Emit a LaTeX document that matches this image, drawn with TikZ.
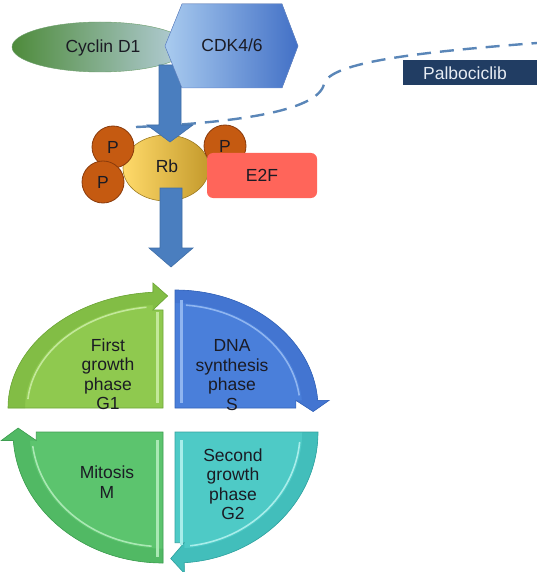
\documentclass[tikz,border=0pt]{standalone}
\usepackage{fontspec}
\setmainfont{Liberation Sans}
\usetikzlibrary{shapes.geometric}
\definecolor{txt}{HTML}{1B1B24}
\definecolor{arrowc}{HTML}{4A7EBF}
\definecolor{arrowl}{HTML}{3F6FA8}
\definecolor{dashc}{HTML}{5A86B8}
\definecolor{cycL}{HTML}{4E8B3B}
\definecolor{cycR}{HTML}{B7CFDD}
\definecolor{cdkL}{HTML}{A9CBEF}
\definecolor{cdkR}{HTML}{4270C6}
\definecolor{rbL}{HTML}{FFDA6A}
\definecolor{rbR}{HTML}{C49A2C}
\definecolor{pfill}{HTML}{C55A11}
\definecolor{pdraw}{HTML}{8A3B0C}
\definecolor{e2f}{HTML}{FF655A}
\definecolor{palbo}{HTML}{213D63}
\definecolor{palbotxt}{HTML}{E6ECF3}
\definecolor{gA}{HTML}{8FC94F}\definecolor{gB}{HTML}{82BD45}\definecolor{gC}{HTML}{C3E89A}\definecolor{gD}{HTML}{6EA63A}
\definecolor{sA}{HTML}{4A7FDA}\definecolor{sB}{HTML}{4375D1}\definecolor{sC}{HTML}{8FB5F0}\definecolor{sD}{HTML}{3564B8}
\definecolor{mA}{HTML}{5CC46E}\definecolor{mB}{HTML}{51B964}\definecolor{mC}{HTML}{A9E8B3}\definecolor{mD}{HTML}{3F9E52}
\definecolor{tA}{HTML}{4ECAC6}\definecolor{tB}{HTML}{42BEBB}\definecolor{tC}{HTML}{A8EDEA}\definecolor{tD}{HTML}{33A3A1}
\newcommand\quadrant[9]{%
\begin{scope}[shift={(#1,#2)}, x=1pt, y=1pt, xscale=#3, yscale=#4, rotate=#5]
\fill[#6] (0,0) -- (-1,0) arc[start angle=180,end angle=93.7,radius=1] -- (-0.065,1.078) -- (0.03,0.966) -- (-0.065,0.845) -- (0,0.845) -- cycle;
\fill[#7] (-1,0) arc[start angle=180,end angle=93.7,radius=1] -- (-0.065,1.078) -- (0.03,0.966) -- (-0.065,0.845) -- (94.2:0.89) arc[start angle=94.2,end angle=180,radius=0.89] -- cycle;
\draw[#8, line width=1.6pt] (175:0.875) arc[start angle=175,end angle=97,radius=0.875];
\draw[#9, line width=0.6pt] (0,0) -- (-1,0) arc[start angle=180,end angle=93.7,radius=1] -- (-0.065,1.078) -- (0.03,0.966) -- (-0.065,0.845) -- (0,0.845) -- cycle;
\end{scope}}
\tikzset{
  lbl/.style={text=txt, font=\fontsize{17.5}{19.5}\selectfont, align=center, inner sep=0pt},
  dashline/.style={dashc, line width=2.4pt, dash pattern=on 14pt off 9pt},
  blockarrow/.style={fill=arrowc, draw=arrowl, line width=0.6pt},
  pball/.style={circle, fill=pfill, draw=pdraw, line width=0.8pt, minimum size=42pt, inner sep=0pt, text=txt, font=\fontsize{17.5}{19.5}\selectfont},
}
\begin{document}
\begin{tikzpicture}[x=1pt,y=-1pt]
\useasboundingbox (0,0) rectangle (537,572);
\fill[white] (0,0) rectangle (537,572);

% dashed inhibitor line
\coordinate (d0) at (136,127);
\coordinate (d1) at (324,84);
\coordinate (d2) at (537,43);
\draw[dashline] (d0) .. controls (230,123) and (318,112) .. (d1) .. controls (330,62) and (420,52) .. (d2);

% Palbociclib box
\fill[palbo] (403,60) rectangle (537,85);
\node[lbl, text=palbotxt] (palbo) at (465,73) {Palbociclib};

% Cyclin D1
\node[ellipse, minimum width=176pt, minimum height=50pt, inner sep=0pt, left color=cycL, right color=cycR, draw=cycL!70!cycR, line width=0.4pt] (cyc) at (100,47) {};
\node[lbl] (cyctxt) at (103,48) {Cyclin D1};

% Rb complex
\node[ellipse, minimum width=86pt, minimum height=66pt, inner sep=0pt, left color=rbL, right color=rbR, draw=rbR!80!black, line width=0.6pt] (rb) at (166,168) {};
\node[pball] (p1) at (113,147) {P};
\node[pball] (p2) at (103,182) {P};
\node[pball] (p3) at (225,146) {P};
\node[lbl] (rbtxt) at (167,166) {Rb};
\node[rectangle, rounded corners=6pt, fill=e2f, minimum width=110pt, minimum height=45pt, inner sep=0pt, lbl] (e2f) at (262,175.5) {E2F};

% arrow 1 (behind hexagon)
\coordinate (a1) at (170,65);
\fill[blockarrow] (159,65) -- (181,65) -- (181,125) -- (193,125) -- (170,142) -- (147,125) -- (159,125) -- cycle;

% CDK4/6 hexagon
\fill[left color=cdkL, right color=cdkR, draw=cdkR!80!white, line width=0.5pt] (165,46) -- (182,4) -- (282,4) -- (298,46) -- (282,88) -- (182,88) -- cycle;
\node[lbl] (cdk) at (232,45) {CDK4/6};

% arrow 2
\fill[blockarrow] (160,188) -- (182,188) -- (182,248) -- (193,248) -- (171,267) -- (149,248) -- (160,248) -- cycle;

% cell cycle quadrants
\quadrant{163}{408}{155}{116}{0}{gA}{gB}{gC}{gD}
\quadrant{175}{408}{143}{118}{-90}{sA}{sB}{sC}{sD}
\quadrant{175}{432}{143}{131}{180}{tA}{tB}{tC}{tD}
\quadrant{163}{432}{150}{131}{90}{mA}{mB}{mC}{mD}
\draw[gC, line width=3pt] (157,312) -- (157,403);
\draw[sC, line width=3pt] (181,300) -- (181,403);
\draw[mC, line width=3pt] (157,440) -- (157,557);
\draw[tC, line width=3pt] (181,440) -- (181,545);

\node[lbl] (g1) at (108,374) {First\\growth\\phase\\G1};
\node[lbl] (s) at (232,375) {DNA\\synthesis\\phase\\S};
\node[lbl] (m) at (107,482) {Mitosis\\M};
\node[lbl] (g2) at (233,484) {Second\\growth\\phase\\G2};
\end{tikzpicture}
\end{document}
